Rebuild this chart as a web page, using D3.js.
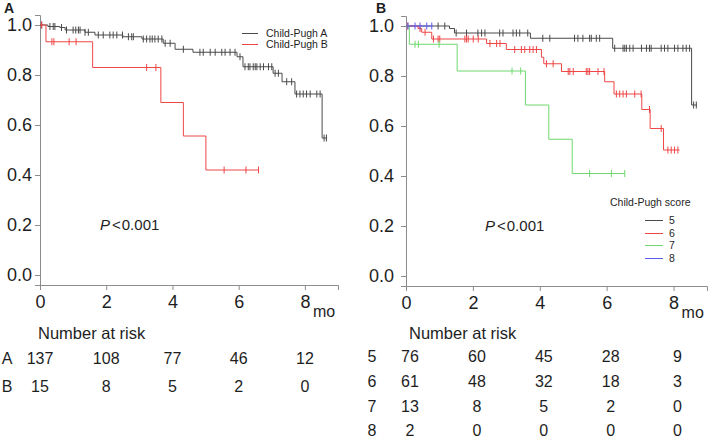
<!DOCTYPE html>
<html>
<head>
<meta charset="utf-8">
<script src="https://cdn.jsdelivr.net/npm/d3@7"></script>
<style>
  body { margin: 0; background: #fff; }
  svg { display: block; font-family: "Liberation Sans", Arial, sans-serif; }
</style>
</head>
<body>
<svg width="709" height="441"></svg>
<script>
// panel A: Child-Pugh class
var aClassATimes = [0, 0.24, 0.6, 0.76, 1.36, 1.66, 2.5, 3.08, 3.72, 4.08, 4.62, 5.95, 6.13, 7.04, 7.31, 7.7, 8.52, 8.67];
var aClassASurv  = [1, 0.994, 0.99, 0.98, 0.971, 0.96, 0.953, 0.944, 0.927, 0.903, 0.891, 0.873, 0.833, 0.807, 0.773, 0.724, 0.548, 0.548];
var aClassACens  = [0.05, 0.3, 0.4, 0.45, 0.65, 0.8, 1.0, 1.08, 1.16, 1.21, 1.36, 1.46, 1.76, 1.91, 2.11, 2.21, 2.32, 2.49,
                    2.67, 2.77, 2.82, 3.12, 3.22, 3.32, 3.39, 3.47, 3.57, 3.68, 3.78, 3.93, 4.33, 4.83, 4.93, 5.14, 5.29,
                    5.49, 5.59, 5.74, 5.89, 6.04, 6.19, 6.29, 6.34, 6.44, 6.5, 6.55, 6.65, 6.75, 6.9, 7.0, 7.1, 7.2, 7.45,
                    7.6, 7.75, 7.85, 7.95, 8.05, 8.16, 8.36, 8.46, 8.58, 8.65];
var aClassBTimes = [0, 0.18, 1.59, 3.65, 4.33, 5.01, 6.6];
var aClassBSurv  = [1, 0.933, 0.83, 0.69, 0.556, 0.42, 0.42];
var aClassBCens  = [0.05, 0.36, 0.42, 0.88, 1.09, 3.22, 3.5, 5.56, 6.22, 6.6];

// panel B: Child-Pugh score
var b5Times = [0, 1.3, 1.45, 3.72, 6.18, 8.54, 8.7];
var b5Surv  = [1, 0.99, 0.972, 0.951, 0.911, 0.684, 0.684];
var b5Cens  = [0.96, 1.16, 1.5, 1.81, 2.15, 2.26, 2.36, 2.8, 2.9, 3.2, 3.3, 3.4, 3.64, 4.09, 4.3, 5.04, 5.14, 5.29, 5.49,
               5.54, 5.69, 5.79, 6.24, 6.49, 6.54, 6.59, 6.69, 6.79, 7.04, 7.19, 7.28, 7.33, 7.63, 7.73, 7.83, 8.03,
               8.13, 8.28, 8.38, 8.48, 8.6, 8.68];
var b6Times = [0, 0.36, 0.47, 0.77, 2.41, 3.0, 4.05, 4.12, 4.65, 5.94, 6.22, 7.05, 7.3, 7.7, 8.18];
var b6Surv  = [1, 0.99, 0.975, 0.948, 0.93, 0.906, 0.875, 0.849, 0.818, 0.777, 0.728, 0.666, 0.59, 0.504, 0.504];
var b6Cens  = [0.05, 0.42, 0.57, 0.82, 0.96, 1.01, 1.76, 1.81, 1.86, 2.01, 2.16, 2.51, 2.71, 2.81, 3.25, 3.45, 3.55,
               3.7, 3.8, 3.9, 4.2, 4.4, 4.85, 4.9, 5.0, 5.39, 5.44, 5.49, 5.74, 5.92, 6.29, 6.39, 6.49, 6.59, 6.84,
               7.03, 7.28, 7.63, 7.83, 7.93, 8.03, 8.13];
var b7Times = [0, 0.1, 1.53, 3.57, 4.27, 4.97, 6.54];
var b7Surv  = [1, 0.927, 0.82, 0.684, 0.547, 0.41, 0.41];
var b7Cens  = [0.27, 0.37, 0.99, 3.17, 3.43, 5.49, 6.14, 6.54];
var b8Times = [0, 0.8];
var b8Surv  = [1, 1];
var b8Cens  = [0.06, 0.27, 0.42, 0.62, 0.77];

var yTicks = [0, 0.2, 0.4, 0.6, 0.8, 1.0];
var xTicks = [0, 2, 4, 6, 8];

var riskTimes = [0, 2, 4, 6, 8];
var riskALabels = ["A", "B"];
var riskARows = [[137, 108, 77, 46, 12], [15, 8, 5, 2, 0]];
var riskBLabels = ["5", "6", "7", "8"];
var riskBRows = [[76, 60, 45, 28, 9], [61, 48, 32, 18, 3], [13, 8, 5, 2, 0], [2, 0, 0, 0, 0]];

var legendALabels = ["Child-Pugh A", "Child-Pugh B"];
var legendBLabels = ["5", "6", "7", "8"];

var colBlack = "#4a4a4a", colRed = "#ef4646", colGreen = "#6fd86f", colBlue = "#5c5cf0";
var axisCol = "#8c8c8c", textCol = "#1e1e1e";

var svg = d3.select("svg");

var stepValue = function(times, surv, t) {
  var i = d3.bisectRight(times, t) - 1;
  return surv[Math.max(0, i)];
}

var drawPanel = function(p) {
  var g = svg.append("g");
  var x = d3.scaleLinear().domain([0, 9]).range(p.xRange);
  var y = d3.scaleLinear().domain([-0.04, 1.04]).range(p.yRange);

  var yAxis = g.append("g")
    .attr("transform", "translate(" + p.xRange[0] + ",0)")
    .call(d3.axisLeft(y).tickValues(yTicks).tickFormat(d3.format(".1f"))
      .tickSizeOuter(0).tickSize(5).tickPadding(p.yPad));
  var xAxis = g.append("g")
    .attr("transform", "translate(0," + p.yRange[0] + ")")
    .call(d3.axisBottom(x).tickValues(xTicks).tickSizeOuter(0).tickSize(5).tickPadding(5));

  [yAxis, xAxis].forEach(function(a) {
    a.attr("font-family", null).attr("font-size", 18);
    a.selectAll("path, line").attr("stroke", axisCol);
    a.selectAll("text").attr("fill", textCol);
  });

  g.append("text")
    .attr("x", x(8) + 8).attr("y", p.yRange[0] + 32)
    .attr("font-size", 16).attr("fill", textCol)
    .text("mo");

  g.append("text")
    .attr("x", p.letterX).attr("y", 13)
    .attr("font-size", 14).attr("font-weight", "bold").attr("fill", textCol)
    .text(p.letter);

  var line = d3.line()
    .x(function(d) { return x(d[0]); })
    .y(function(d) { return y(d[1]); })
    .curve(d3.curveStepAfter);

  p.series.forEach(function(s) {
    var pts = s.times.map(function(t, i) { return [t, s.surv[i]]; });
    g.append("path")
      .attr("d", line(pts))
      .attr("fill", "none")
      .attr("stroke", s.color)
      .attr("stroke-width", 1);
    g.append("g")
      .selectAll("line")
      .data(s.cens)
      .enter()
      .append("line")
      .attr("x1", function(d) { return x(d); })
      .attr("x2", function(d) { return x(d); })
      .attr("y1", function(d) { return y(stepValue(s.times, s.surv, d)) - 3.5; })
      .attr("y2", function(d) { return y(stepValue(s.times, s.surv, d)) + 3.5; })
      .attr("stroke", s.color)
      .attr("stroke-width", 1);
  });

  var pText = g.append("text")
    .attr("x", p.pX).attr("y", y(0.2) + 5)
    .attr("font-size", 15).attr("fill", textCol);
  pText.append("tspan").attr("font-style", "italic").text("P");
  pText.append("tspan").attr("dx", 2).text("<");
  pText.append("tspan").attr("dx", 1).text("0.001");

  // number at risk
  g.append("text")
    .attr("x", p.natX).attr("y", 339)
    .attr("font-size", 16.5).attr("fill", textCol)
    .text("Number at risk");

  p.riskRows.forEach(function(row, r) {
    var ry = p.riskY[r];
    g.append("text")
      .attr("x", p.riskLabelX).attr("y", ry)
      .attr("font-size", 16).attr("text-anchor", "middle").attr("fill", textCol)
      .text(p.riskLabels[r]);
    g.selectAll(null)
      .data(row)
      .enter()
      .append("text")
      .attr("x", function(d, i) { return x(riskTimes[i]) + p.riskShift; })
      .attr("y", ry)
      .attr("font-size", 16)
      .attr("text-anchor", "middle")
      .attr("fill", textCol)
      .text(function(d) { return d; });
  });

  return {x: x, y: y, g: g};
}

var panelA = drawPanel({
  letter: "A", letterX: 4,
  xRange: [40, 338], yRange: [285, 15], yPad: 3,
  pX: 100, natX: 38,
  series: [
    {times: aClassATimes, surv: aClassASurv, cens: aClassACens, color: colBlack},
    {times: aClassBTimes, surv: aClassBSurv, cens: aClassBCens, color: colRed}
  ],
  riskLabels: riskALabels, riskRows: riskARows, riskY: [364, 392], riskLabelX: 7, riskShift: 0
});

var panelB = drawPanel({
  letter: "B", letterX: 376,
  xRange: [406, 707], yRange: [286, 16], yPad: 7,
  pX: 485, natX: 409,
  series: [
    {times: b5Times, surv: b5Surv, cens: b5Cens, color: colBlack},
    {times: b6Times, surv: b6Surv, cens: b6Cens, color: colRed},
    {times: b7Times, surv: b7Surv, cens: b7Cens, color: colGreen},
    {times: b8Times, surv: b8Surv, cens: b8Cens, color: colBlue}
  ],
  riskLabels: riskBLabels, riskRows: riskBRows, riskY: [362, 387, 412, 436], riskLabelX: 372, riskShift: 4
});

// legends
var legA = svg.append("g");
legA.selectAll("line")
  .data(legendALabels)
  .enter()
  .append("line")
  .attr("x1", 242).attr("x2", 258)
  .attr("y1", function(d, i) { return 33.5 + i * 11; })
  .attr("y2", function(d, i) { return 33.5 + i * 11; })
  .attr("stroke", function(d, i) { return [colBlack, colRed][i]; });
legA.selectAll("text")
  .data(legendALabels)
  .enter()
  .append("text")
  .attr("x", 266)
  .attr("y", function(d, i) { return 37 + i * 11; })
  .attr("font-size", 10.5).attr("fill", textCol)
  .text(function(d) { return d; });

var legB = svg.append("g");
legB.append("text")
  .attr("x", 610).attr("y", 206)
  .attr("font-size", 10.5).attr("fill", textCol)
  .text("Child-Pugh score");
legB.selectAll("line")
  .data(legendBLabels)
  .enter()
  .append("line")
  .attr("x1", 645).attr("x2", 663)
  .attr("y1", function(d, i) { return Math.round(220 + i * 12.5) + 0.5; })
  .attr("y2", function(d, i) { return Math.round(220 + i * 12.5) + 0.5; })
  .attr("stroke", function(d, i) { return [colBlack, colRed, colGreen, colBlue][i]; });
legB.selectAll("text.lab")
  .data(legendBLabels)
  .enter()
  .append("text")
  .attr("class", "lab")
  .attr("x", 669)
  .attr("y", function(d, i) { return 224 + i * 12.5; })
  .attr("font-size", 10.5).attr("fill", textCol)
  .text(function(d) { return d; });
</script>
</body>
</html>
